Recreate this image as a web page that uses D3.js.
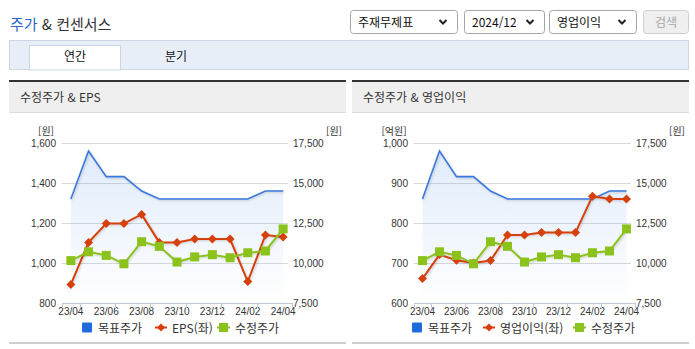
<!DOCTYPE html>
<html lang="ko">
<head>
<meta charset="utf-8">
<script src="https://cdn.jsdelivr.net/npm/d3@7"></script>
<style>
  html, body { margin: 0; padding: 0; background: #fff; }
  svg { display: block; }
</style>
</head>
<body>
<div id="root"></div>
<script>
// ---- data ----
const months = ["23/04","23/05","23/06","23/07","23/08","23/09","23/10","23/11","23/12","24/01","24/02","24/03","24/04"];
const monthLabels = ["23/04","23/06","23/08","23/10","23/12","24/02","24/04"];
const targetPrice = [14000,17000,15400,15400,14500,14000,14000,14000,14000,14000,14000,14500,14500];
const adjPrice    = [10150,10700,10475,9950,11330,11040,10060,10380,10520,10330,10640,10750,12130];
const eps         = [893,1103,1197,1197,1243,1103,1103,1120,1120,1120,907,1140,1130];
const opIncome    = [661,721,707,700,706,770,770,776,776,776,867,860,860];
const epsTicks    = [800,1000,1200,1400,1600];
const opTicks     = [600,700,800,900,1000];
const priceTicks  = [7500,10000,12500,15000,17500];
const selectLabels = ["주재무제표","2024/12","영업이익"];
const tabLabels = ["연간","분기"];

const KR = "'Noto Sans CJK KR','Noto Sans',sans-serif";
const NUM = "'Liberation Sans Narrow','Liberation Sans',Arial,sans-serif";
const C = { target: "#3b78dc", eps: "#d5400d", price: "#8cc21c", legendBlue: "#1f6bdc" };

const svg = d3.select("#root").append("svg").attr("width", 695).attr("height", 349);
const defs = svg.append("defs");

// soft shadow under the series lines
const sh = defs.append("filter").attr("id", "shadow").attr("x", "-5%").attr("y", "-20%").attr("width", "110%").attr("height", "140%");
sh.append("feDropShadow").attr("dx", 1).attr("dy", 1).attr("stdDeviation", 1).attr("flood-color", "#000").attr("flood-opacity", 0.18);

const grad = defs.append("linearGradient").attr("id", "areaFill")
  .attr("gradientUnits", "userSpaceOnUse").attr("x1", 0).attr("x2", 0).attr("y1", 143).attr("y2", 303);
grad.append("stop").attr("offset", 0).attr("stop-color", "#4a8be6").attr("stop-opacity", 0.18);
grad.append("stop").attr("offset", 1).attr("stop-color", "#4a8be6").attr("stop-opacity", 0.0);

// ---- page header ----
const title = svg.append("text").attr("x", 10).attr("y", 30).attr("font-family", KR).attr("font-size", 15);
title.append("tspan").attr("fill", "#2e67c8").text("주가");
title.append("tspan").attr("fill", "#333").text(" & 컨센서스");

const selBoxes = [[350, 107], [464, 80], [549, 87]];
selBoxes.forEach(([x, w], i) => {
  svg.append("rect").attr("x", x + 0.5).attr("y", 10.5).attr("width", w).attr("height", 23)
    .attr("rx", 3).attr("fill", "#fff").attr("stroke", "#a6a6a6");
  svg.append("text").attr("x", x + 8).attr("y", 27).attr("font-family", KR).attr("font-size", 12)
    .attr("fill", "#111").text(selectLabels[i]);
  const cx = x + w - 14;
  svg.append("path").attr("d", `M${cx - 3.5},20 L${cx},23.5 L${cx + 3.5},20`)
    .attr("fill", "none").attr("stroke", "#222").attr("stroke-width", 2);
});
svg.append("rect").attr("x", 643.5).attr("y", 10.5).attr("width", 45).attr("height", 23)
  .attr("rx", 3).attr("fill", "#efefef").attr("stroke", "#cfcfcf");
svg.append("text").attr("x", 666).attr("y", 27).attr("text-anchor", "middle").attr("font-family", KR)
  .attr("font-size", 12).attr("fill", "#a8a8a8").text("검색");

// ---- tab bar ----
svg.append("rect").attr("x", 9.5).attr("y", 40.5).attr("width", 679).attr("height", 29)
  .attr("fill", "#e8eef8").attr("stroke", "#cdd6e4");
svg.append("rect").attr("x", 29.5).attr("y", 45.5).attr("width", 91).attr("height", 24.5)
  .attr("fill", "#fff").attr("stroke", "#cdd6e4");
[75, 176].forEach((cx, i) => {
  svg.append("text").attr("x", cx).attr("y", 61).attr("text-anchor", "middle").attr("font-family", KR)
    .attr("font-size", 12).attr("fill", "#111").text(tabLabels[i]);
});

// ---- one chart panel ----
function panel(cfg) {
  const g = svg.append("g");
  g.append("rect").attr("x", cfg.px0).attr("y", 80).attr("width", cfg.px1 - cfg.px0).attr("height", 2).attr("fill", "#333");
  g.append("rect").attr("x", cfg.px0).attr("y", 82).attr("width", cfg.px1 - cfg.px0).attr("height", 30).attr("fill", "#efefef");
  g.append("rect").attr("x", cfg.px0).attr("y", 112).attr("width", cfg.px1 - cfg.px0).attr("height", 1).attr("fill", "#dcdcdc");
  g.append("text").attr("x", cfg.px0 + 11).attr("y", 102).attr("font-family", KR).attr("font-size", 12)
    .attr("fill", "#333").text(cfg.title);
  g.append("rect").attr("x", cfg.px0).attr("y", 342).attr("width", cfg.px1 - cfg.px0).attr("height", 2).attr("fill", "#cfcfcf");

  const top = 143, bottom = 303;
  const x = d3.scaleBand().domain(months).range([cfg.x0, cfg.x1]).padding(0);
  const cx = m => x(m) + x.bandwidth() / 2;
  const yL = d3.scaleLinear().domain(d3.extent(cfg.leftTicks)).range([bottom, top]);
  const yR = d3.scaleLinear().domain(d3.extent(priceTicks)).range([bottom, top]);

  // gridlines
  g.append("g").selectAll("line").data(cfg.leftTicks.slice(1)).join("line")
    .attr("x1", cfg.x0).attr("x2", cfg.x1 - 4)
    .attr("y1", d => Math.round(yL(d)) + 0.5).attr("y2", d => Math.round(yL(d)) + 0.5)
    .attr("stroke", "#d9d9d9");

  // left axis
  const la = g.append("g").attr("transform", `translate(${cfg.x0 - 6},0)`)
    .call(d3.axisLeft(yL).tickValues(cfg.leftTicks).tickSize(0).tickPadding(0).tickFormat(d3.format(",")));
  la.select(".domain").remove();
  la.selectAll("text").attr("font-family", NUM).attr("font-size", 10).attr("fill", "#333");
  g.append("text").attr("x", cfg.unitLX).attr("y", 135).attr("text-anchor", "middle")
    .attr("font-family", KR).attr("font-size", 10).attr("fill", "#333").text(cfg.unitL);

  // right axis
  const ra = g.append("g").attr("transform", `translate(${cfg.x1 + 1},0)`)
    .call(d3.axisRight(yR).tickValues(priceTicks).tickSize(0).tickPadding(0).tickFormat(d3.format(",")));
  ra.select(".domain").remove();
  ra.selectAll("text").attr("font-family", NUM).attr("font-size", 10).attr("fill", "#333");
  g.append("text").attr("x", cfg.unitRX).attr("y", 135).attr("text-anchor", "middle")
    .attr("font-family", KR).attr("font-size", 10).attr("fill", "#333").text("[원]");

  // bottom axis: labels on every other month, tick marks on band edges
  const ba = g.append("g").attr("transform", `translate(0,${bottom})`)
    .call(d3.axisBottom(x).tickValues(monthLabels).tickSize(0).tickPadding(5));
  ba.select(".domain").remove();
  ba.selectAll("text").attr("font-family", NUM).attr("font-size", 10).attr("fill", "#333");
  g.append("line").attr("x1", cfg.x0).attr("x2", cfg.x1 + 1).attr("y1", bottom + 0.5).attr("y2", bottom + 0.5)
    .attr("stroke", "#c3cad6");
  const edgeTicks = [x(months[0])].concat(monthLabels.slice(1).map(m => x(m) - x.bandwidth()), [cfg.x1]);
  g.append("g").selectAll("line").data(edgeTicks).join("line")
    .attr("x1", d => Math.round(d) + 0.5).attr("x2", d => Math.round(d) + 0.5)
    .attr("y1", bottom).attr("y2", bottom + 5).attr("stroke", "#c3cad6");

  // target price area + line
  const area = d3.area().x((d, i) => cx(months[i])).y0(bottom).y1(d => yR(d));
  const line = d3.line().x((d, i) => cx(months[i]));
  g.append("path").datum(targetPrice).attr("d", area).attr("fill", "url(#areaFill)");
  g.append("path").datum(targetPrice).attr("d", line.y(d => yR(d)))
    .attr("fill", "none").attr("stroke", C.target).attr("stroke-width", 1.6).attr("filter", "url(#shadow)");

  // left-axis series (diamonds)
  g.append("path").datum(cfg.leftSeries).attr("d", d3.line().x((d, i) => cx(months[i])).y(d => yL(d)))
    .attr("fill", "none").attr("stroke", C.eps).attr("stroke-width", 2).attr("filter", "url(#shadow)");
  g.append("g").selectAll("path").data(cfg.leftSeries).join("path")
    .attr("transform", (d, i) => `translate(${cx(months[i])},${yL(d)})`)
    .attr("d", "M0,-4.5L4.5,0L0,4.5L-4.5,0Z").attr("fill", C.eps);

  // adjusted price (squares)
  g.append("path").datum(adjPrice).attr("d", d3.line().x((d, i) => cx(months[i])).y(d => yR(d)))
    .attr("fill", "none").attr("stroke", C.price).attr("stroke-width", 2).attr("filter", "url(#shadow)");
  g.append("g").selectAll("rect").data(adjPrice).join("rect")
    .attr("x", (d, i) => cx(months[i]) - 4.5).attr("y", d => yR(d) - 4.5)
    .attr("width", 9).attr("height", 9).attr("fill", C.price);

  // legend
  const lg = g.append("g").attr("font-family", KR).attr("font-size", 12).attr("fill", "#333");
  lg.append("rect").attr("x", cfg.leg[0]).attr("y", 322.5).attr("width", 10).attr("height", 10).attr("rx", 1).attr("fill", C.legendBlue);
  lg.append("text").attr("x", cfg.leg[0] + 16).attr("y", 332.5).text("목표주가");
  lg.append("line").attr("x1", cfg.leg[1]).attr("x2", cfg.leg[1] + 12).attr("y1", 327.5).attr("y2", 327.5)
    .attr("stroke", C.eps).attr("stroke-width", 2);
  lg.append("path").attr("transform", `translate(${cfg.leg[1] + 6},327.5)`).attr("d", "M0,-4L4,0L0,4L-4,0Z").attr("fill", C.eps);
  lg.append("text").attr("x", cfg.leg[1] + 17).attr("y", 332.5).text(cfg.leftName);
  lg.append("line").attr("x1", cfg.leg[2]).attr("x2", cfg.leg[2] + 13).attr("y1", 327.5).attr("y2", 327.5)
    .attr("stroke", C.price).attr("stroke-width", 2);
  lg.append("rect").attr("x", cfg.leg[2] + 2).attr("y", 323).attr("width", 9).attr("height", 9).attr("fill", C.price);
  lg.append("text").attr("x", cfg.leg[2] + 18).attr("y", 332.5).text("수정주가");
}

panel({
  px0: 9, px1: 346, title: "수정주가 & EPS",
  x0: 62, x1: 292, leftTicks: epsTicks, leftSeries: eps, leftName: "EPS(좌)",
  unitL: "[원]", unitLX: 46, unitRX: 334, leg: [82, 155, 217]
});
panel({
  px0: 352, px1: 689, title: "수정주가 & 영업이익",
  x0: 414, x1: 635, leftTicks: opTicks, leftSeries: opIncome, leftName: "영업이익(좌)",
  unitL: "[억원]", unitLX: 394, unitRX: 677, leg: [412, 483, 573]
});
</script>
</body>
</html>
